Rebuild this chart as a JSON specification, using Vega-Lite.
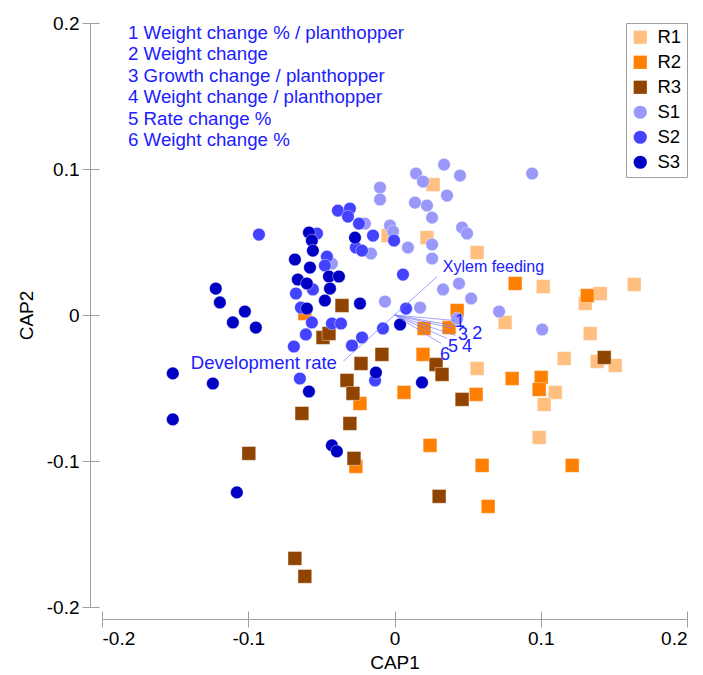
{
  "$schema": "https://vega.github.io/schema/vega-lite/v6.json",
  "width": 585,
  "height": 584,
  "autosize": {"type": "none"},
  "padding": {"left": 102, "top": 23, "right": 16, "bottom": 68},
  "background": "white",
  "config": {
    "view": {"stroke": null},
    "font": "Liberation Sans",
    "axis": {
      "grid": false,
      "domainColor": "#A0A0A0",
      "tickColor": "#A0A0A0",
      "labelColor": "#000000",
      "titleColor": "#000000",
      "labelFont": "Liberation Sans",
      "titleFont": "Liberation Sans",
      "labelFontSize": 19,
      "titleFontSize": 19,
      "titleFontWeight": "normal",
      "domainWidth": 1,
      "tickWidth": 1
    }
  },
  "datasets": {
    "points": [
      {"group": "R1", "cap1": 0.0264, "cap2": 0.0893},
      {"group": "R1", "cap1": -0.0044, "cap2": 0.0544},
      {"group": "R1", "cap1": 0.0222, "cap2": 0.0530},
      {"group": "R1", "cap1": 0.0565, "cap2": 0.0428},
      {"group": "R1", "cap1": 0.1017, "cap2": 0.0195},
      {"group": "R1", "cap1": 0.1639, "cap2": 0.0209},
      {"group": "R1", "cap1": 0.1407, "cap2": 0.0147},
      {"group": "R1", "cap1": 0.1304, "cap2": 0.0079},
      {"group": "R1", "cap1": 0.0756, "cap2": -0.0051},
      {"group": "R1", "cap1": 0.1338, "cap2": -0.0127},
      {"group": "R1", "cap1": 0.0565, "cap2": -0.0366},
      {"group": "R1", "cap1": 0.1160, "cap2": -0.0298},
      {"group": "R1", "cap1": 0.1386, "cap2": -0.0318},
      {"group": "R1", "cap1": 0.1509, "cap2": -0.0346},
      {"group": "R1", "cap1": 0.1099, "cap2": -0.0530},
      {"group": "R1", "cap1": 0.1023, "cap2": -0.0613},
      {"group": "R1", "cap1": 0.0989, "cap2": -0.0839},
      {"group": "R2", "cap1": -0.0613, "cap2": 0.0010},
      {"group": "R2", "cap1": 0.0428, "cap2": 0.0031},
      {"group": "R2", "cap1": 0.0373, "cap2": -0.0086},
      {"group": "R2", "cap1": 0.0202, "cap2": -0.0092},
      {"group": "R2", "cap1": 0.0195, "cap2": -0.0270},
      {"group": "R2", "cap1": 0.0065, "cap2": -0.0530},
      {"group": "R2", "cap1": 0.0558, "cap2": -0.0544},
      {"group": "R2", "cap1": -0.0236, "cap2": -0.0606},
      {"group": "R2", "cap1": 0.0804, "cap2": -0.0435},
      {"group": "R2", "cap1": 0.1003, "cap2": -0.0428},
      {"group": "R2", "cap1": 0.0989, "cap2": -0.0510},
      {"group": "R2", "cap1": 0.1318, "cap2": 0.0133},
      {"group": "R2", "cap1": 0.0825, "cap2": 0.0216},
      {"group": "R2", "cap1": 0.0243, "cap2": -0.0893},
      {"group": "R2", "cap1": 0.0599, "cap2": -0.1030},
      {"group": "R2", "cap1": 0.1215, "cap2": -0.1030},
      {"group": "R2", "cap1": 0.0640, "cap2": -0.1311},
      {"group": "R2", "cap1": -0.0264, "cap2": -0.1037},
      {"group": "R3", "cap1": -0.0359, "cap2": 0.0065},
      {"group": "R3", "cap1": -0.0489, "cap2": -0.0154},
      {"group": "R3", "cap1": -0.0448, "cap2": -0.0127},
      {"group": "R3", "cap1": -0.0086, "cap2": -0.0270},
      {"group": "R3", "cap1": -0.0229, "cap2": -0.0332},
      {"group": "R3", "cap1": -0.0325, "cap2": -0.0448},
      {"group": "R3", "cap1": -0.0284, "cap2": -0.0537},
      {"group": "R3", "cap1": -0.0633, "cap2": -0.0674},
      {"group": "R3", "cap1": -0.0305, "cap2": -0.0743},
      {"group": "R3", "cap1": -0.0277, "cap2": -0.0982},
      {"group": "R3", "cap1": -0.0996, "cap2": -0.0948},
      {"group": "R3", "cap1": -0.0681, "cap2": -0.1667},
      {"group": "R3", "cap1": -0.0613, "cap2": -0.1790},
      {"group": "R3", "cap1": 0.0284, "cap2": -0.0339},
      {"group": "R3", "cap1": 0.0325, "cap2": -0.0407},
      {"group": "R3", "cap1": 0.0462, "cap2": -0.0578},
      {"group": "R3", "cap1": 0.1434, "cap2": -0.0291},
      {"group": "R3", "cap1": 0.0305, "cap2": -0.1242},
      {"group": "S1", "cap1": 0.0339, "cap2": 0.1030},
      {"group": "S1", "cap1": 0.0147, "cap2": 0.0969},
      {"group": "S1", "cap1": 0.0195, "cap2": 0.0914},
      {"group": "S1", "cap1": 0.0448, "cap2": 0.0955},
      {"group": "S1", "cap1": 0.0941, "cap2": 0.0969},
      {"group": "S1", "cap1": -0.0099, "cap2": 0.0873},
      {"group": "S1", "cap1": -0.0099, "cap2": 0.0791},
      {"group": "S1", "cap1": 0.0140, "cap2": 0.0770},
      {"group": "S1", "cap1": 0.0222, "cap2": 0.0750},
      {"group": "S1", "cap1": 0.0359, "cap2": 0.0818},
      {"group": "S1", "cap1": 0.0257, "cap2": 0.0667},
      {"group": "S1", "cap1": 0.0462, "cap2": 0.0599},
      {"group": "S1", "cap1": 0.0496, "cap2": 0.0558},
      {"group": "S1", "cap1": -0.0031, "cap2": 0.0613},
      {"group": "S1", "cap1": -0.0010, "cap2": 0.0572},
      {"group": "S1", "cap1": 0.0092, "cap2": 0.0462},
      {"group": "S1", "cap1": 0.0257, "cap2": 0.0483},
      {"group": "S1", "cap1": 0.0257, "cap2": 0.0387},
      {"group": "S1", "cap1": 0.0441, "cap2": 0.0216},
      {"group": "S1", "cap1": 0.0332, "cap2": 0.0175},
      {"group": "S1", "cap1": 0.0524, "cap2": 0.0113},
      {"group": "S1", "cap1": 0.0715, "cap2": 0.0024},
      {"group": "S1", "cap1": 0.0175, "cap2": 0.0051},
      {"group": "S1", "cap1": -0.0065, "cap2": 0.0092},
      {"group": "S1", "cap1": 0.1010, "cap2": -0.0099},
      {"group": "S1", "cap1": 0.0428, "cap2": -0.0024},
      {"group": "S1", "cap1": -0.0202, "cap2": 0.0626},
      {"group": "S1", "cap1": -0.0161, "cap2": 0.0421},
      {"group": "S1", "cap1": -0.0428, "cap2": 0.0352},
      {"group": "S2", "cap1": -0.0387, "cap2": 0.0715},
      {"group": "S2", "cap1": -0.0305, "cap2": 0.0729},
      {"group": "S2", "cap1": -0.0318, "cap2": 0.0674},
      {"group": "S2", "cap1": -0.0243, "cap2": 0.0626},
      {"group": "S2", "cap1": -0.0147, "cap2": 0.0544},
      {"group": "S2", "cap1": -0.0003, "cap2": 0.0510},
      {"group": "S2", "cap1": -0.0264, "cap2": 0.0462},
      {"group": "S2", "cap1": -0.0222, "cap2": 0.0441},
      {"group": "S2", "cap1": -0.0462, "cap2": 0.0400},
      {"group": "S2", "cap1": -0.0476, "cap2": 0.0339},
      {"group": "S2", "cap1": -0.0558, "cap2": 0.0175},
      {"group": "S2", "cap1": -0.0674, "cap2": 0.0147},
      {"group": "S2", "cap1": -0.0640, "cap2": 0.0051},
      {"group": "S2", "cap1": 0.0058, "cap2": 0.0277},
      {"group": "S2", "cap1": 0.0079, "cap2": 0.0044},
      {"group": "S2", "cap1": -0.0079, "cap2": -0.0092},
      {"group": "S2", "cap1": -0.0222, "cap2": -0.0154},
      {"group": "S2", "cap1": -0.0291, "cap2": -0.0209},
      {"group": "S2", "cap1": -0.0565, "cap2": -0.0051},
      {"group": "S2", "cap1": -0.0428, "cap2": -0.0058},
      {"group": "S2", "cap1": -0.0366, "cap2": -0.0058},
      {"group": "S2", "cap1": -0.0606, "cap2": -0.0133},
      {"group": "S2", "cap1": -0.0688, "cap2": -0.0216},
      {"group": "S2", "cap1": -0.0647, "cap2": -0.0435},
      {"group": "S2", "cap1": -0.0133, "cap2": -0.0448},
      {"group": "S2", "cap1": -0.0927, "cap2": 0.0551},
      {"group": "S2", "cap1": -0.0530, "cap2": 0.0558},
      {"group": "S3", "cap1": -0.0585, "cap2": 0.0565},
      {"group": "S3", "cap1": -0.0565, "cap2": 0.0510},
      {"group": "S3", "cap1": -0.0558, "cap2": 0.0441},
      {"group": "S3", "cap1": -0.0681, "cap2": 0.0380},
      {"group": "S3", "cap1": -0.0578, "cap2": 0.0325},
      {"group": "S3", "cap1": -0.0661, "cap2": 0.0243},
      {"group": "S3", "cap1": -0.0599, "cap2": 0.0216},
      {"group": "S3", "cap1": -0.0448, "cap2": 0.0264},
      {"group": "S3", "cap1": -0.0380, "cap2": 0.0264},
      {"group": "S3", "cap1": -0.0441, "cap2": 0.0181},
      {"group": "S3", "cap1": -0.0476, "cap2": 0.0099},
      {"group": "S3", "cap1": -0.0599, "cap2": 0.0044},
      {"group": "S3", "cap1": -0.0270, "cap2": 0.0530},
      {"group": "S3", "cap1": -0.0236, "cap2": 0.0079},
      {"group": "S3", "cap1": 0.0038, "cap2": -0.0065},
      {"group": "S3", "cap1": -0.0127, "cap2": -0.0394},
      {"group": "S3", "cap1": -0.0585, "cap2": -0.0524},
      {"group": "S3", "cap1": -0.0428, "cap2": -0.0893},
      {"group": "S3", "cap1": -0.0394, "cap2": -0.0934},
      {"group": "S3", "cap1": 0.0188, "cap2": -0.0462},
      {"group": "S3", "cap1": -0.1222, "cap2": 0.0181},
      {"group": "S3", "cap1": -0.1194, "cap2": 0.0086},
      {"group": "S3", "cap1": -0.1023, "cap2": 0.0024},
      {"group": "S3", "cap1": -0.1105, "cap2": -0.0051},
      {"group": "S3", "cap1": -0.0948, "cap2": -0.0086},
      {"group": "S3", "cap1": -0.1516, "cap2": -0.0400},
      {"group": "S3", "cap1": -0.1242, "cap2": -0.0469},
      {"group": "S3", "cap1": -0.1516, "cap2": -0.0715},
      {"group": "S3", "cap1": -0.1078, "cap2": -0.1215}
    ],
    "vectors": [
      {"name": "Xylem feeding", "x0": 0, "y0": 0, "x1": 0.0291, "y1": 0.0263},
      {"name": "Development rate", "x0": 0, "y0": 0, "x1": -0.0349, "y1": -0.0316},
      {"name": "1", "x0": 0, "y0": 0, "x1": 0.0414, "y1": -0.0038},
      {"name": "2", "x0": 0, "y0": 0, "x1": 0.0435, "y1": -0.0079},
      {"name": "3", "x0": 0, "y0": 0, "x1": 0.0400, "y1": -0.0092},
      {"name": "4", "x0": 0, "y0": 0, "x1": 0.0414, "y1": -0.0140},
      {"name": "5", "x0": 0, "y0": 0, "x1": 0.0359, "y1": -0.0161},
      {"name": "6", "x0": 0, "y0": 0, "x1": 0.0318, "y1": -0.0195}
    ],
    "labels": [
      {"kind": "list", "label": "1 Weight change % / planthopper", "x": -0.1822, "y": 0.1932},
      {"kind": "list", "label": "2 Weight change", "x": -0.1822, "y": 0.1788},
      {"kind": "list", "label": "3 Growth change / planthopper", "x": -0.1822, "y": 0.1639},
      {"kind": "list", "label": "4 Weight change / planthopper", "x": -0.1822, "y": 0.1491},
      {"kind": "list", "label": "5 Rate change %", "x": -0.1822, "y": 0.1343},
      {"kind": "list", "label": "6 Weight change %", "x": -0.1822, "y": 0.1199},
      {"kind": "num", "label": "1", "x": 0.0448, "y": -0.0051},
      {"kind": "num", "label": "2", "x": 0.0565, "y": -0.0127},
      {"kind": "num", "label": "3", "x": 0.0469, "y": -0.0140},
      {"kind": "num", "label": "4", "x": 0.0496, "y": -0.0216},
      {"kind": "num", "label": "5", "x": 0.0400, "y": -0.0216},
      {"kind": "num", "label": "6", "x": 0.0346, "y": -0.0277},
      {"kind": "xylem", "label": "Xylem feeding", "x": 0.0330, "y": 0.0327},
      {"kind": "dev", "label": "Development rate", "x": -0.0394, "y": -0.0327}
    ]
  },
  "resolve": {"axis": {"x": "independent", "y": "independent"}},
  "layer": [
    {
      "data": {"name": "points"},
      "transform": [{"filter": "datum.group == 'R1' || datum.group == 'R2' || datum.group == 'R3'"}],
      "mark": {"type": "point", "filled": true, "opacity": 1, "size": 190, "stroke": "white", "strokeWidth": 0.8, "strokeOpacity": 0.5},
      "encoding": {
        "x": {"field": "cap1", "type": "quantitative", "scale": {"domain": [-0.2, 0.2], "nice": false, "zero": false},
          "axis": {"orient": "bottom", "values": [-0.2, -0.1, 0, 0.1, 0.2], "offset": 12, "tickSize": 8, "labelPadding": 2, "title": "CAP1", "titlePadding": 5,
            "labelExpr": "datum.value == 0 ? '0' : (datum.value < 0 ? '-' : '') + format(abs(datum.value), '.1f')"}},
        "y": {"field": "cap2", "type": "quantitative", "scale": {"domain": [-0.2, 0.2], "nice": false, "zero": false},
          "axis": {"orient": "left", "values": [-0.2, -0.1, 0, 0.1, 0.2], "offset": 12, "tickSize": 8, "labelPadding": 3, "title": "CAP2", "titlePadding": 10,
            "labelExpr": "datum.value == 0 ? '0' : (datum.value < 0 ? '-' : '') + format(abs(datum.value), '.1f')"}},
        "color": {"field": "group", "type": "nominal",
          "scale": {"domain": ["R1", "R2", "R3", "S1", "S2", "S3"], "range": ["#FFBF80", "#FF8000", "#904400", "#9999FA", "#4242FF", "#0000C4"]},
          "legend": {"title": null, "orient": "top-right", "offset": 0, "strokeColor": "#A0A0A0", "fillColor": "white", "padding": 5,
            "labelFontSize": 18.5, "labelFont": "Liberation Sans", "labelColor": "#000000", "symbolSize": 175, "rowPadding": 6, "labelOffset": 8, "symbolStrokeWidth": 0}},
        "shape": {"field": "group", "type": "nominal",
          "scale": {"domain": ["R1", "R2", "R3", "S1", "S2", "S3"], "range": ["square", "square", "square", "circle", "circle", "circle"]}}
      }
    },
    {
      "data": {"name": "points"},
      "transform": [{"filter": "datum.group == 'S1' || datum.group == 'S2' || datum.group == 'S3'"}],
      "mark": {"type": "point", "filled": true, "opacity": 1, "size": 160, "stroke": "white", "strokeWidth": 0.8, "strokeOpacity": 0.5},
      "encoding": {
        "x": {"field": "cap1", "type": "quantitative", "scale": {"domain": [-0.2, 0.2], "nice": false, "zero": false}, "axis": null},
        "y": {"field": "cap2", "type": "quantitative", "scale": {"domain": [-0.2, 0.2], "nice": false, "zero": false}, "axis": null},
        "color": {"field": "group", "type": "nominal"},
        "shape": {"field": "group", "type": "nominal"}
      }
    },
    {
      "data": {"name": "vectors"},
      "mark": {"type": "rule", "color": "#7C7CFF", "strokeWidth": 0.8, "opacity": 0.9},
      "encoding": {
        "x": {"field": "x0", "type": "quantitative", "scale": {"domain": [-0.2, 0.2], "nice": false, "zero": false},
          "axis": {"orient": "bottom", "values": [-0.2, -0.1, 0, 0.1, 0.2], "offset": 4, "tickSize": 8, "domain": false, "labels": false, "title": null}},
        "y": {"field": "y0", "type": "quantitative", "scale": {"domain": [-0.2, 0.2], "nice": false, "zero": false},
          "axis": {"orient": "left", "values": [-0.2, -0.1, 0, 0.1, 0.2], "offset": 3, "tickSize": 9, "domain": false, "labels": false, "title": null}},
        "x2": {"field": "x1"},
        "y2": {"field": "y1"}
      }
    },
    {
      "data": {"name": "labels"},
      "transform": [{"filter": "datum.kind == 'list'"}],
      "mark": {"type": "text", "align": "left", "baseline": "middle", "fontSize": 18.7, "font": "Liberation Sans", "color": "#2020FF"},
      "encoding": {
        "x": {"field": "x", "type": "quantitative", "scale": {"domain": [-0.2, 0.2]}, "axis": null},
        "y": {"field": "y", "type": "quantitative", "scale": {"domain": [-0.2, 0.2]}, "axis": null},
        "text": {"field": "label"}
      }
    },
    {
      "data": {"name": "labels"},
      "transform": [{"filter": "datum.kind == 'num'"}],
      "mark": {"type": "text", "align": "center", "baseline": "middle", "fontSize": 18, "font": "Liberation Sans", "color": "#2020FF"},
      "encoding": {
        "x": {"field": "x", "type": "quantitative", "scale": {"domain": [-0.2, 0.2]}, "axis": null},
        "y": {"field": "y", "type": "quantitative", "scale": {"domain": [-0.2, 0.2]}, "axis": null},
        "text": {"field": "label"}
      }
    },
    {
      "data": {"name": "labels"},
      "transform": [{"filter": "datum.kind == 'xylem'"}],
      "mark": {"type": "text", "align": "left", "baseline": "middle", "fontSize": 16, "font": "Liberation Sans", "color": "#2020FF"},
      "encoding": {
        "x": {"field": "x", "type": "quantitative", "scale": {"domain": [-0.2, 0.2]}, "axis": null},
        "y": {"field": "y", "type": "quantitative", "scale": {"domain": [-0.2, 0.2]}, "axis": null},
        "text": {"field": "label"}
      }
    },
    {
      "data": {"name": "labels"},
      "transform": [{"filter": "datum.kind == 'dev'"}],
      "mark": {"type": "text", "align": "right", "baseline": "middle", "fontSize": 18.5, "font": "Liberation Sans", "color": "#2020FF"},
      "encoding": {
        "x": {"field": "x", "type": "quantitative", "scale": {"domain": [-0.2, 0.2]}, "axis": null},
        "y": {"field": "y", "type": "quantitative", "scale": {"domain": [-0.2, 0.2]}, "axis": null},
        "text": {"field": "label"}
      }
    }
  ]
}
